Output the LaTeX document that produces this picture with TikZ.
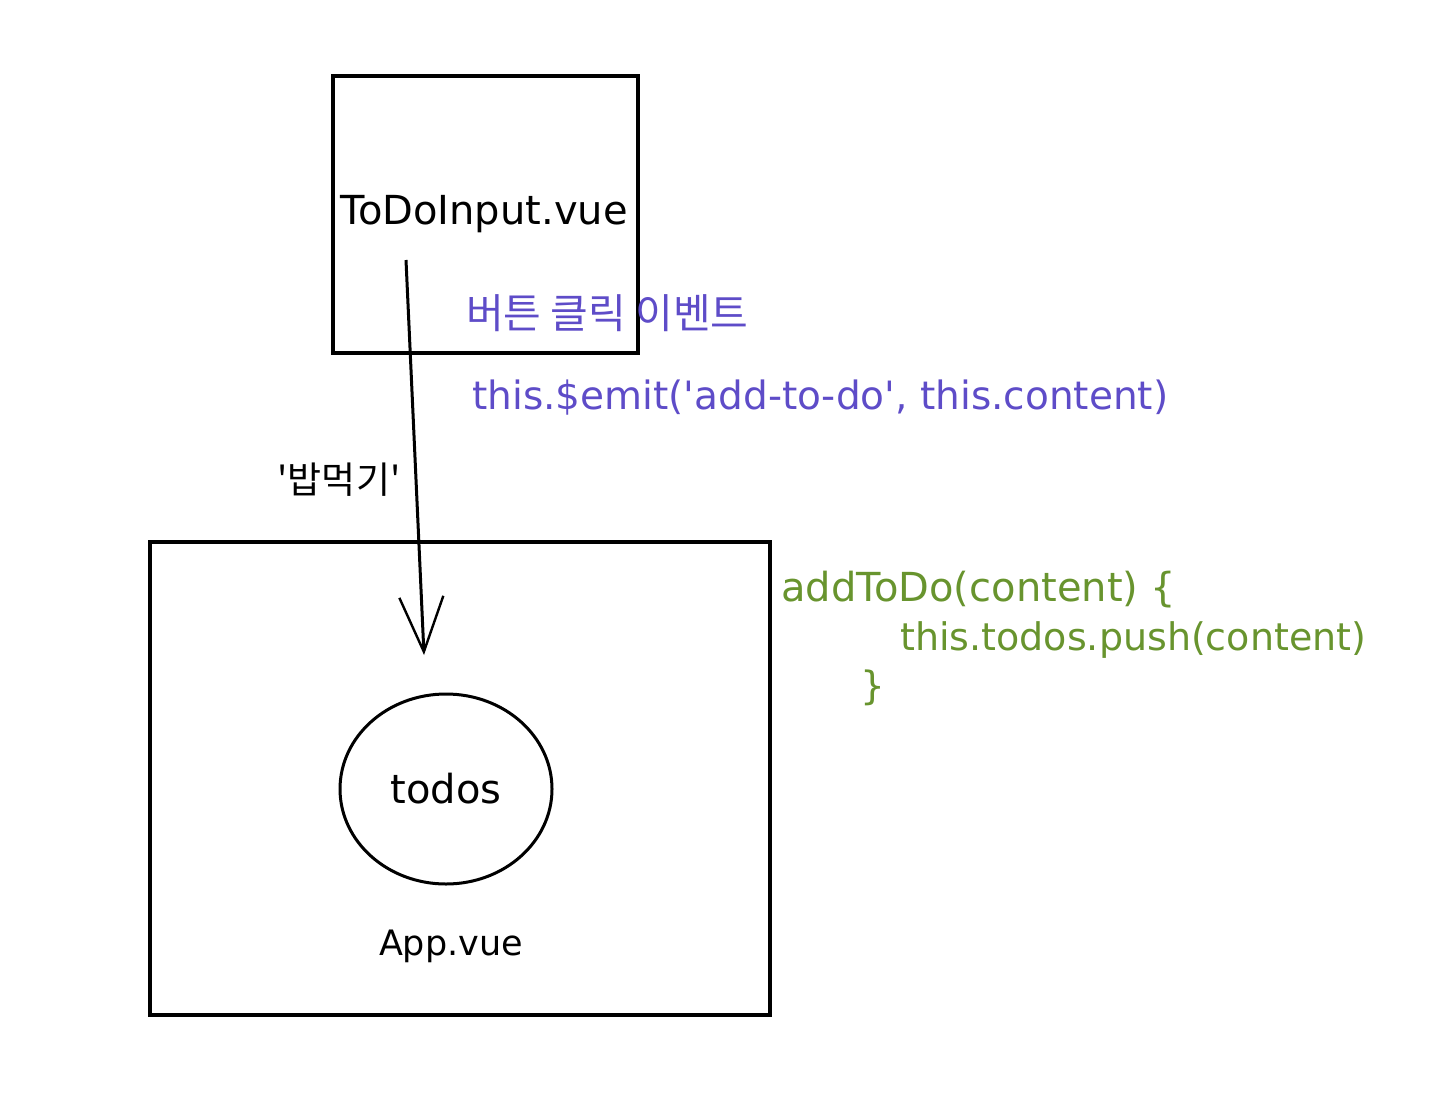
\documentclass[tikz,border=0pt]{standalone}
\usepackage{fontspec}
\setmainfont{DejaVu Sans}
\newfontfamily\kr{Noto Sans CJK KR}
\usetikzlibrary{arrows.meta,shapes.geometric}
\definecolor{evpurple}{RGB}{94,76,200}
\definecolor{codegreen}{RGB}{104,148,46}
\tikzset{
  compbox/.style={draw=black, line width=3.2pt},
  hand/.style={font=\fontsize{39}{44}\selectfont, inner sep=0pt},
  purpletxt/.style={hand, text=evpurple},
  greentxt/.style={hand, text=codegreen, anchor=west},
}
\begin{document}
\begin{tikzpicture}[x=1pt,y=-1pt]
\useasboundingbox (0,0) rectangle (1434,1092);
% boxes
\draw[compbox] (333,76) rectangle (638,353);
\draw[compbox] (150,542) rectangle (770,1015);
\node[hand, font=\fontsize{40}{44}\selectfont] (tdi) at (484,214) {ToDoInput.vue};
\node[hand, font=\fontsize{35}{40}\selectfont] (app) at (451,946) {App.vue};
\node[ellipse, draw, line width=3pt, minimum width=212pt, minimum height=190pt, hand, font=\fontsize{40}{44}\selectfont] (todos) at (446,789) {todos};
% event label
\node[inner sep=0pt, text=evpurple, font=\kr\fontsize{41}{46}\selectfont, anchor=west] (evt) at (466,313) {버튼 클릭 이벤트};
\node[purpletxt, anchor=west] (emit) at (472,398) {this.\$emit(\textquotesingle add-to-do\textquotesingle, this.content)};
\node[inner sep=0pt, font=\kr\fontsize{37}{42}\selectfont] (bab) at (339,480) {'밥먹기'};
% arrow
\coordinate (arrS) at (406,260);
\coordinate (arrE) at (424,655);
\draw[line width=3pt, -{Straight Barb[length=55pt,width=44pt,line width=2.4pt]}] (arrS) -- (arrE);
% green code
\node[greentxt, font=\fontsize{40}{44}\selectfont] (c1) at (781,590) {addToDo(content) \{};
\node[greentxt, font=\fontsize{38}{44}\selectfont] (c2) at (900,640) {this.todos.push(content)};
\node[greentxt] (c3) at (860,688) {\}};
\end{tikzpicture}
\end{document}
